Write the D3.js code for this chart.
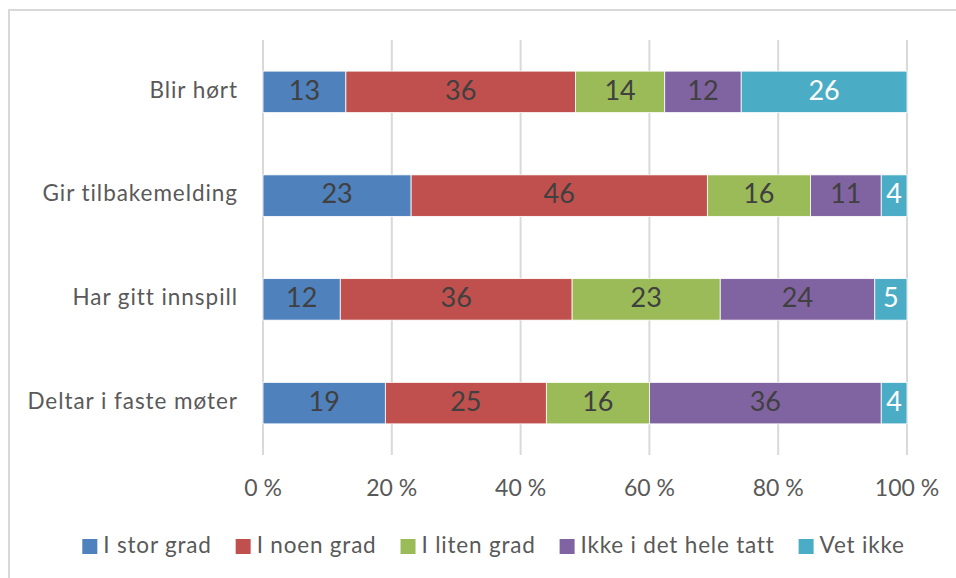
<!DOCTYPE html>
<html><head><meta charset="utf-8">
<script src="https://cdn.jsdelivr.net/npm/d3@7"></script>
<style>body{margin:0;background:#fff}svg{display:block}text{font-family:Lato,sans-serif}</style>
</head><body><svg id="c" width="956" height="578"></svg>
<script>
const categories = ["Blir hørt","Gir tilbakemelding","Har gitt innspill","Deltar i faste møter"];
const seriesNames = ["I stor grad","I noen grad","I liten grad","Ikke i det hele tatt","Vet ikke"];
const seriesColors = ["#4f81bd","#c0504d","#9bbb59","#8064a2","#4bacc6"];
const labelColors = ["#404040","#404040","#404040","#404040","#ffffff"];
const values = [
  [13,36,14,12,26],
  [23,46,16,11,4],
  [12,36,23,24,5],
  [19,25,16,36,4]
];
const tickValues = [0,0.2,0.4,0.6,0.8,1];
const tickLabels = ["0 %","20 %","40 %","60 %","80 %","100 %"];

const svg = d3.select("#c");
svg.append("rect").attr("x",9).attr("y",10).attr("width",960).attr("height",600)
  .attr("fill","none").attr("stroke","#d9d9d9").attr("stroke-width",2);

const x = d3.scaleLinear().domain([0,1]).range([263,907]);
const y = d3.scaleBand().domain(categories).range([40,455]).paddingInner(0.6).paddingOuter(0.3);

const g = svg.append("g");
g.selectAll("line.grid").data(tickValues).join("line")
  .attr("x1",d=>x(d)).attr("x2",d=>x(d)).attr("y1",40).attr("y2",455)
  .attr("stroke","#d9d9d9").attr("stroke-width",2);

tickValues.forEach((t,i)=>{
  svg.append("text").attr("x",x(t)).attr("y",490).attr("text-anchor","middle")
    .attr("dominant-baseline","middle").attr("font-size",23).attr("fill","#595959").text(tickLabels[i]);
});

categories.forEach((c,ci)=>{
  const total = d3.sum(values[ci]);
  let acc = 0;
  values[ci].forEach((v,si)=>{
    const x0 = x(acc/total), x1 = x((acc+v)/total);
    acc += v;
    g.append("rect").attr("x",x0).attr("y",y(c)).attr("width",x1-x0).attr("height",y.bandwidth())
      .attr("fill",seriesColors[si]).attr("stroke","#fff").attr("stroke-width",0.8);
    g.append("text").attr("x",(x0+x1)/2).attr("y",y(c)+y.bandwidth()/2+1)
      .attr("text-anchor","middle").attr("dominant-baseline","middle")
      .attr("font-size",27).attr("fill",labelColors[si]).text(v);
  });
  svg.append("text").attr("x",238).attr("y",y(c)+y.bandwidth()/2)
    .attr("text-anchor","end").attr("dominant-baseline","middle")
    .attr("font-size",22.5).attr("letter-spacing",0.95).attr("fill","#595959").text(c);
});

// legend
const lg = svg.append("g");
let lx = 0;
seriesNames.forEach((n,i)=>{
  const it = lg.append("g");
  it.append("rect").attr("x",lx).attr("y",-7).attr("width",15).attr("height",15).attr("fill",seriesColors[i]);
  const t = it.append("text").attr("x",lx+21).attr("y",1).attr("dominant-baseline","middle")
    .attr("font-size",22.5).attr("letter-spacing",0.8).attr("fill","#595959").text(n);
  lx += 21 + t.node().getComputedTextLength() + 24;
});
lx -= 24;
lg.attr("transform",`translate(${(80+907)/2 - lx/2},546)`);
</script></body></html>
